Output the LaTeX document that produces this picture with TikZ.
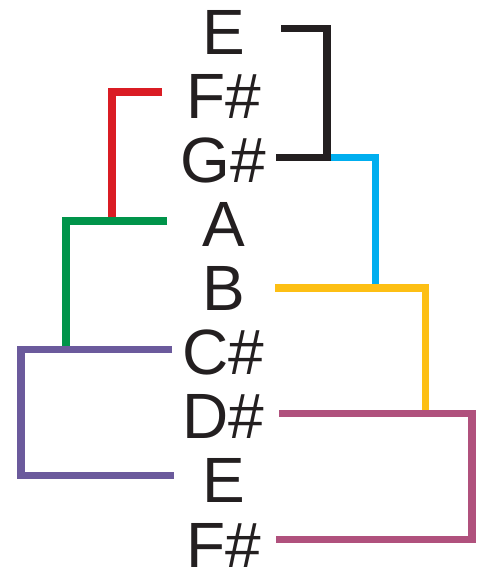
\documentclass[tikz,border=0pt]{standalone}
\usepackage{fontspec}
\setmainfont{Liberation Sans}
\definecolor{cblack}{HTML}{231F20}
\definecolor{cred}{HTML}{DA1C24}
\definecolor{cgreen}{HTML}{00944A}
\definecolor{cblue}{HTML}{00AEEF}
\definecolor{cyellow}{HTML}{FDBF14}
\definecolor{cpurple}{HTML}{6B5A9C}
\definecolor{cpink}{HTML}{B0517D}
\begin{document}
\begin{tikzpicture}[x=1pt,y=-1pt,
  note/.style={anchor=base,inner sep=0pt,font=\fontsize{64}{64}\selectfont,text=cblack},
  bracket/.style={line width=7.5pt,line join=miter,line cap=butt}]
\useasboundingbox (0,0) rectangle (485,571);
\node[note] (n1) at (223.5,54) {E};
\node[note] (n2) at (223.5,118.1) {F\#};
\node[note] (n3) at (223.5,182.2) {G\#};
\node[note] (n4) at (223.5,246.4) {A};
\node[note] (n5) at (223.5,310.5) {B};
\node[note] (n6) at (223.5,374.6) {C\#};
\node[note] (n7) at (223.5,438.7) {D\#};
\node[note] (n8) at (223.5,502.9) {E};
\node[note] (n9) at (223.5,567) {F\#};
% connector end points
\coordinate (k1) at (281,28.5);
\coordinate (k3) at (276,157.5);
\coordinate (kc) at (327,157.5);
\coordinate (r2) at (162,92);
\coordinate (g4) at (167,221);
\coordinate (rg) at (112,221);
\coordinate (y5) at (275,288);
\coordinate (by) at (375.5,288);
\coordinate (p6) at (172,349.5);
\coordinate (gp) at (66,349.5);
\coordinate (m7) at (279,413.5);
\coordinate (ym) at (425.5,413.5);
\coordinate (p8) at (174,475.5);
\coordinate (m9) at (276,539.5);
% brackets
\draw[bracket,cred] (r2) -| (rg);
\draw[bracket,cgreen] (g4) -| (gp);
\draw[bracket,cpurple] (p6) -- (21,349.5) |- (p8);
\draw[bracket,cblue] (kc) -| (by);
\draw[bracket,cblack] (k1) -| (kc) -- (k3);
\draw[bracket,cyellow] (y5) -| (ym);
\draw[bracket,cpink] (m7) -- (472,413.5) |- (m9);
\end{tikzpicture}
\end{document}
